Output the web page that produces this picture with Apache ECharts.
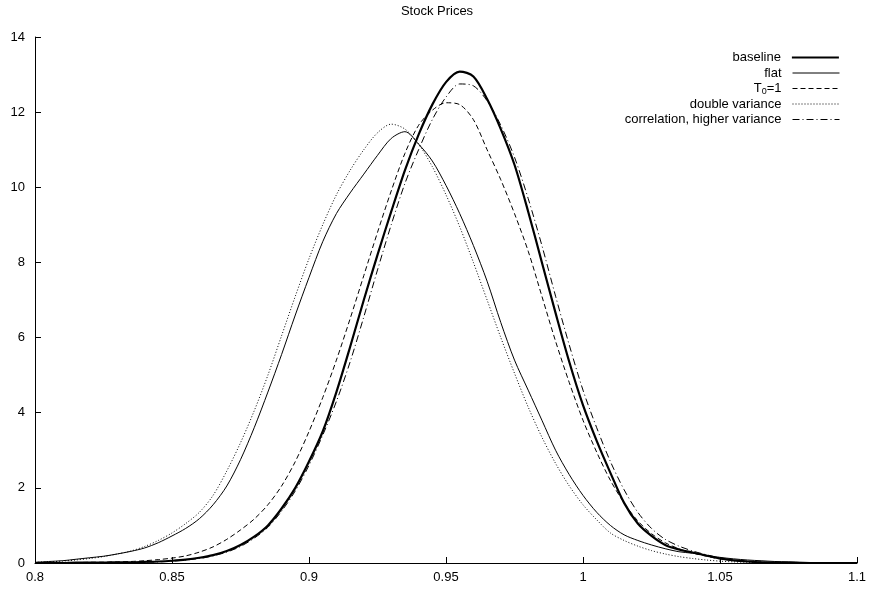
<!DOCTYPE html>
<html>
<head>
<meta charset="utf-8">
<title>Stock Prices</title>
<script src="https://cdn.jsdelivr.net/npm/echarts@6/dist/echarts.min.js"></script>
<style>
  html, body { margin: 0; padding: 0; background: #fff; }
  #chart { width: 874px; height: 590px; }
</style>
</head>
<body>
<div id="chart"></div>
<script>
// x grid of the density estimates
const xs = [
  0.800, 0.805, 0.810, 0.815, 0.820, 0.825, 0.830, 0.835, 0.840, 0.845,
  0.850, 0.855, 0.860, 0.865, 0.870, 0.875, 0.880, 0.885, 0.890, 0.895,
  0.900, 0.905, 0.910, 0.915, 0.920, 0.925, 0.930, 0.935, 0.940, 0.945,
  0.950, 0.955, 0.960, 0.965, 0.970, 0.975, 0.980, 0.985, 0.990, 0.995,
  1.000, 1.005, 1.010, 1.015, 1.020, 1.025, 1.030, 1.035, 1.040, 1.045,
  1.050, 1.055, 1.060, 1.065, 1.070, 1.075, 1.080, 1.085, 1.090, 1.095, 1.100
];

const baseline = [
  0.00, 0.00, 0.00, 0.01, 0.01, 0.01, 0.02, 0.02, 0.03, 0.04,
  0.06, 0.09, 0.14, 0.21, 0.32, 0.48, 0.70, 1.00, 1.45, 2.00,
  2.70, 3.50, 4.55, 5.75, 7.00, 8.20, 9.35, 10.45, 11.40, 12.20,
  12.80, 13.08, 12.95, 12.35, 11.55, 10.60, 9.35, 8.00, 6.65, 5.35,
  4.20, 3.25, 2.40, 1.60, 1.05, 0.72, 0.48, 0.36, 0.28, 0.20,
  0.12, 0.07, 0.04, 0.02, 0.01, 0.01, 0.00, 0.00, 0.00, 0.00, 0.00
];

const flat = [
  0.02, 0.04, 0.06, 0.10, 0.14, 0.18, 0.24, 0.31, 0.40, 0.54,
  0.72, 0.92, 1.18, 1.55, 2.05, 2.75, 3.60, 4.55, 5.55, 6.60,
  7.60, 8.55, 9.30, 9.85, 10.35, 10.85, 11.30, 11.48, 11.15, 10.70,
  10.05, 9.30, 8.45, 7.50, 6.40, 5.40, 4.60, 3.80, 3.00, 2.35,
  1.80, 1.35, 1.00, 0.75, 0.60, 0.48, 0.38, 0.30, 0.26, 0.20,
  0.15, 0.11, 0.08, 0.06, 0.04, 0.03, 0.02, 0.01, 0.01, 0.00, 0.00
];

const t0 = [
  0.00, 0.00, 0.01, 0.01, 0.02, 0.02, 0.03, 0.04, 0.06, 0.09,
  0.13, 0.19, 0.29, 0.43, 0.63, 0.88, 1.17, 1.55, 2.05, 2.70,
  3.50, 4.40, 5.40, 6.50, 7.65, 8.80, 9.90, 10.90, 11.65, 12.05,
  12.25, 12.20, 11.80, 11.00, 10.20, 9.30, 8.30, 7.10, 5.90, 4.80,
  3.80, 2.95, 2.20, 1.60, 1.12, 0.78, 0.54, 0.38, 0.27, 0.18,
  0.11, 0.07, 0.04, 0.02, 0.01, 0.00, 0.00, 0.00, 0.00, 0.00, 0.00
];

const doubleVar = [
  0.02, 0.03, 0.05, 0.08, 0.12, 0.17, 0.24, 0.32, 0.44, 0.60,
  0.80, 1.05, 1.35, 1.80, 2.45, 3.20, 4.05, 5.00, 6.05, 7.10,
  8.10, 9.00, 9.80, 10.45, 11.00, 11.45, 11.68, 11.55, 11.15, 10.55,
  9.80, 8.95, 8.00, 7.00, 6.00, 5.05, 4.15, 3.35, 2.65, 2.05,
  1.55, 1.15, 0.80, 0.60, 0.45, 0.33, 0.24, 0.17, 0.12, 0.08,
  0.05, 0.03, 0.02, 0.01, 0.01, 0.00, 0.00, 0.00, 0.00, 0.00, 0.00
];

const corrHigh = [
  0.00, 0.00, 0.00, 0.00, 0.01, 0.01, 0.01, 0.01, 0.02, 0.03,
  0.05, 0.08, 0.12, 0.19, 0.29, 0.44, 0.66, 0.95, 1.38, 1.92,
  2.60, 3.40, 4.30, 5.35, 6.55, 7.80, 9.00, 10.10, 11.00, 11.80,
  12.40, 12.75, 12.70, 12.30, 11.65, 10.80, 9.70, 8.45, 7.10, 5.80,
  4.60, 3.60, 2.70, 1.95, 1.35, 0.92, 0.63, 0.45, 0.32, 0.22,
  0.14, 0.08, 0.05, 0.03, 0.01, 0.01, 0.00, 0.00, 0.00, 0.00, 0.00
];

const names = ['baseline', 'flat', 'T0=1', 'double variance', 'correlation, higher variance'];
const widths = [2.2, 1, 1, 1, 1];
const dashes = ['solid', 'solid', [5, 3], [1, 2], [7, 3, 1, 3]];
const FONT = '"Liberation Sans", Arial, sans-serif';

let chart = echarts.init(document.getElementById('chart'));

const pairs = ys => xs.map((x, i) => [x, ys[i]]);

const mkSeries = (i, ys) => ({
  name: names[i],
  type: 'line',
  data: pairs(ys),
  symbol: 'none',
  smooth: 0.3,
  lineStyle: { color: '#000', width: widths[i], type: dashes[i] },
  itemStyle: { color: '#000' },
  emphasis: { disabled: true }
});

// one legend per entry so the line samples line up on the right
const legendTop = 51;
const legends = names.map((n, i) => ({
  data: [n],
  orient: 'vertical',
  right: 34,
  top: legendTop + i * 15.5,
  align: 'right',
  padding: 0,
  itemWidth: 47,
  itemHeight: 12,
  selectedMode: false,
  // hide the marker the line series puts in the middle of its icon
  itemStyle: { color: 'rgba(0,0,0,0)', borderWidth: 0, opacity: 0 },
  lineStyle: { color: '#000', width: widths[i], type: dashes[i] },
  textStyle: {
    color: '#000', fontSize: 13, fontFamily: FONT, padding: [0, 6, 0, 0],
    rich: {
      n: { fontSize: 13, fontFamily: FONT, color: '#000' },
      s: { fontSize: 9, fontFamily: FONT, color: '#000', verticalAlign: 'bottom', padding: [6, 0, 0, 0] }
    }
  },
  formatter: name => name === 'T0=1' ? '{n|T}{s|0}{n|=1}' : name
}));

let option = {
  animation: false,
  backgroundColor: '#fff',
  title: {
    text: 'Stock Prices',
    left: 'center',
    top: 5,
    padding: 0,
    textStyle: { color: '#000', fontSize: 13, fontWeight: 'normal', fontFamily: FONT }
  },
  legend: legends,
  grid: { left: 35, right: 17, top: 37, bottom: 27, containLabel: false },
  xAxis: {
    type: 'value',
    min: 0.8,
    max: 1.1,
    interval: 0.05,
    axisLine: { lineStyle: { color: '#000', width: 1 } },
    axisTick: { inside: true, length: 6, lineStyle: { color: '#000' } },
    axisLabel: {
      color: '#000', fontSize: 13, fontFamily: FONT, margin: 8,
      formatter: v => String(+v.toFixed(2))
    },
    splitLine: { show: false }
  },
  yAxis: {
    type: 'value',
    min: 0,
    max: 14,
    interval: 2,
    axisLine: { show: true, lineStyle: { color: '#000', width: 1 } },
    axisTick: { show: true, inside: true, length: 6, lineStyle: { color: '#000' } },
    axisLabel: { color: '#000', fontSize: 13, fontFamily: FONT, margin: 10 },
    splitLine: { show: false }
  },
  series: [
    mkSeries(0, baseline),
    mkSeries(1, flat),
    mkSeries(2, t0),
    mkSeries(3, doubleVar),
    mkSeries(4, corrHigh)
  ]
};

chart.setOption(option);
</script>
</body>
</html>
